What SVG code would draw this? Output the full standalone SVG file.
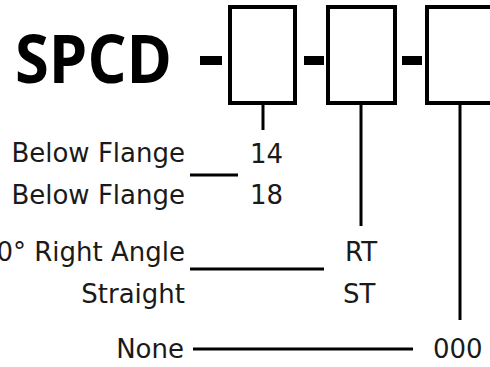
<svg xmlns="http://www.w3.org/2000/svg" width="490" height="367" viewBox="0 0 490 367">
<style>
.box{fill:#fff;stroke:#000;stroke-width:4}
.dash{fill:#000}
.ln{stroke:#000;stroke-width:3;fill:none}
.lbl{font-family:"DejaVu Sans","Verdana",sans-serif;font-size:26px;fill:#1a1a1a}
.end{text-anchor:end}
.title{font-family:"Open Sans","Liberation Sans",sans-serif;font-weight:bold;font-size:66px;fill:#000}
</style>
<rect width="490" height="367" fill="#fff"/>
<g id="title">
<text class="title" x="15" y="83" textLength="157" lengthAdjust="spacingAndGlyphs">SPCD</text>
<rect class="dash" x="200" y="56" width="22" height="9"/>
</g>
<g id="box1"><rect class="box" x="230" y="7" width="65" height="96"/></g>
<rect class="dash" x="304" y="56" width="20" height="9"/>
<g id="box2"><rect class="box" x="328" y="7" width="67" height="96"/></g>
<rect class="dash" x="402" y="56" width="20" height="9"/>
<g id="box3"><rect class="box" x="427" y="7" width="70" height="96"/></g>
<g id="connectors">
<line class="ln" x1="263" y1="105" x2="263" y2="130"/>
<line class="ln" x1="361" y1="105" x2="361" y2="226"/>
<line class="ln" x1="460" y1="105" x2="460" y2="320"/>
<line class="ln" x1="190" y1="175" x2="238" y2="175"/>
<line class="ln" x1="190" y1="269" x2="324" y2="269"/>
<line class="ln" x1="193" y1="349" x2="413" y2="349"/>
</g>
<g id="opt-flange">
<text class="lbl end" x="185" y="162">Below Flange</text>
<text class="lbl end" x="185" y="204">Below Flange</text>
<text class="lbl" x="250" y="163">14</text>
<text class="lbl" x="250" y="204">18</text>
</g>
<g id="opt-angle">
<text class="lbl end" x="185" y="261">0° Right Angle</text>
<text class="lbl end" x="185" y="303">Straight</text>
<text class="lbl" x="345" y="261">RT</text>
<text class="lbl" x="343" y="303">ST</text>
</g>
<g id="opt-none">
<text class="lbl end" x="184" y="358">None</text>
<text class="lbl" x="433" y="358">000</text>
</g>
</svg>
